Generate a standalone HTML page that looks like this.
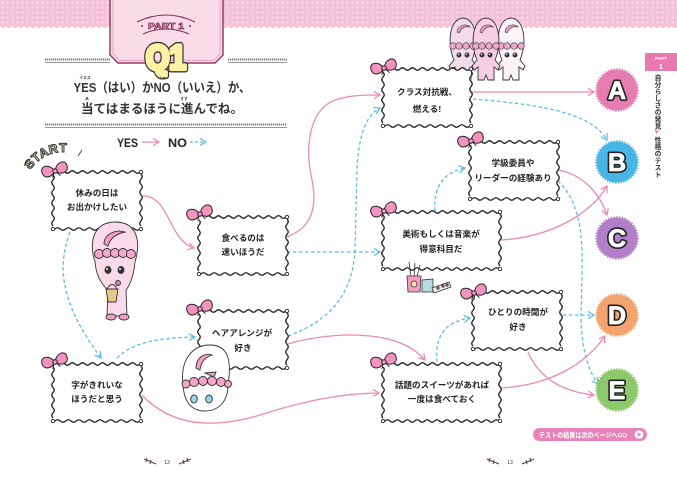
<!DOCTYPE html>
<html><head><meta charset="utf-8">
<style>
html,body{margin:0;padding:0;background:#fff;}
body{width:677px;height:480px;overflow:hidden;position:relative;font-family:"Liberation Sans","Noto Sans CJK JP",sans-serif;}
svg{position:absolute;left:0;top:0;}
.vt{position:absolute;left:652px;top:74px;writing-mode:vertical-rl;text-orientation:upright;font-size:6.8px;font-weight:bold;color:#333;line-height:8px;letter-spacing:0.1px;font-family:"Liberation Sans","Noto Sans CJK JP",sans-serif;}
</style></head>
<body>
<svg width="677" height="480" viewBox="0 0 677 480" xmlns="http://www.w3.org/2000/svg" font-family="'Liberation Sans','Noto Sans CJK JP',sans-serif">
<defs>
<pattern id="dots" width="5" height="5" patternUnits="userSpaceOnUse"><rect width="5" height="5" fill="#f5c3d7"/><circle cx="2.5" cy="2.5" r="0.9" fill="#fbe6ef"/></pattern>
<pattern id="scal" width="6" height="6" patternUnits="userSpaceOnUse" x="0" y="25"><circle cx="3" cy="0" r="3" fill="#f5c3d7"/></pattern>
<marker id="ap" viewBox="0 0 8 8" refX="7" refY="4" markerWidth="8" markerHeight="8" markerUnits="userSpaceOnUse" orient="auto"><path d="M1,0.5 L7,4 L1,7.5" fill="none" stroke="#ec8ab7" stroke-width="1.3"/></marker>
<marker id="ab" viewBox="0 0 8 8" refX="7" refY="4" markerWidth="8" markerHeight="8" markerUnits="userSpaceOnUse" orient="auto"><path d="M1,0.5 L7,4 L1,7.5" fill="none" stroke="#5bbde8" stroke-width="1.3"/></marker>
<g id="b88">
<rect x="0" y="0" width="88" height="57" fill="#fff"/>
<path d="M7,0 q2.5,-2.5 5,0 t5,0 t5,0 t5,0 t5,0 t5,0 t5,0 t5,0 t5,0 t5,0 t5,0 t5,0 t5,0 t5,0 t5,0 t5,0 M2,57 q2.65,-2.5 5.3,0 t5.3,0 t5.3,0 t5.3,0 t5.3,0 t5.3,0 t5.3,0 t5.3,0 t5.3,0 t5.3,0 t5.3,0 t5.3,0 t5.3,0 t5.3,0 t5.3,0 t5.3,0 M0,3 q2.5,2.5 0,5.1 t0,5.1 t0,5.1 t0,5.1 t0,5.1 t0,5.1 t0,5.1 t0,5.1 t0,5.1 t0,5.1 M88,2 q2.5,2.5 0,5.2 t0,5.2 t0,5.2 t0,5.2 t0,5.2 t0,5.2 t0,5.2 t0,5.2 t0,5.2 t0,5.2" fill="none" stroke="#222" stroke-width="1.3"/>
<circle cx="88" cy="0" r="1.7" fill="#fff" stroke="#222" stroke-width="0.9"/>
<circle cx="0" cy="57" r="1.7" fill="#fff" stroke="#222" stroke-width="0.9"/>
<circle cx="88" cy="57" r="1.7" fill="#fff" stroke="#222" stroke-width="0.9"/>
</g>
<g id="b117">
<rect x="0" y="0" width="117" height="57" fill="#fff"/>
<path d="M7,0 q2.5,-2.5 5,0 t5,0 t5,0 t5,0 t5,0 t5,0 t5,0 t5,0 t5,0 t5,0 t5,0 t5,0 t5,0 t5,0 t5,0 t5,0 t5,0 t5,0 t5,0 t5,0 t5,0 t5,0 M2,57 q2.475,-2.5 4.95,0 t4.95,0 t4.95,0 t4.95,0 t4.95,0 t4.95,0 t4.95,0 t4.95,0 t4.95,0 t4.95,0 t4.95,0 t4.95,0 t4.95,0 t4.95,0 t4.95,0 t4.95,0 t4.95,0 t4.95,0 t4.95,0 t4.95,0 t4.95,0 t4.95,0 t4.95,0 M0,3 q2.5,2.5 0,5.1 t0,5.1 t0,5.1 t0,5.1 t0,5.1 t0,5.1 t0,5.1 t0,5.1 t0,5.1 t0,5.1 M117,2 q2.5,2.5 0,5.2 t0,5.2 t0,5.2 t0,5.2 t0,5.2 t0,5.2 t0,5.2 t0,5.2 t0,5.2 t0,5.2" fill="none" stroke="#222" stroke-width="1.3"/>
<circle cx="117" cy="0" r="1.7" fill="#fff" stroke="#222" stroke-width="0.9"/>
<circle cx="0" cy="57" r="1.7" fill="#fff" stroke="#222" stroke-width="0.9"/>
<circle cx="117" cy="57" r="1.7" fill="#fff" stroke="#222" stroke-width="0.9"/>
</g>
<g id="bow">
<path d="M0,0 C-4,-9 -13,-9 -13,-2 C-13,5 -5,6 0,0 Z" fill="#f394c0" stroke="#222" stroke-width="1"/>
<path d="M0,0 C4,-9 13,-9 13,-2 C13,5 5,6 0,0 Z" fill="#f394c0" stroke="#222" stroke-width="1"/>
<path d="M-1,1 L-4,6 M1,1 L4,6" stroke="#222" stroke-width="0.9"/>
<circle r="2.3" fill="#f394c0" stroke="#222" stroke-width="0.9"/>
</g>
<g id="fig">
<path d="M5,44 C-2,28 0,3 14,2 C28,3 30,28 23,44 L28,50 L26,54 L22,51 L22,64 L16,64 L14,59 L12,64 L6,64 L6,51 L2,54 L0,50 Z" fill="currentColor" stroke="#333" stroke-width="0.9"/>
<path d="M8,16 C9,9 17,7 21,11 C16,10 12,12 10,17 Z" fill="#f0a3c6" stroke="#333" stroke-width="0.6"/>
<circle cx="4" cy="30" r="3.3" fill="#f0a8ca" stroke="#333" stroke-width="0.6"/>
<circle cx="10" cy="30" r="3.3" fill="#f0a8ca" stroke="#333" stroke-width="0.6"/>
<circle cx="17" cy="30" r="3.3" fill="#f0a8ca" stroke="#333" stroke-width="0.6"/>
<circle cx="24" cy="30" r="3.3" fill="#f0a8ca" stroke="#333" stroke-width="0.6"/>
<circle cx="10" cy="39" r="2.5" fill="#333"/>
<circle cx="18" cy="39" r="2.5" fill="#333"/>
<circle cx="9.5" cy="38.3" r="0.8" fill="#fff"/>
<circle cx="17.5" cy="38.3" r="0.8" fill="#fff"/>
</g>
</defs>

<!-- header band -->
<rect x="0" y="0" width="677" height="25.5" fill="url(#dots)"/>
<rect x="0" y="25" width="677" height="3.2" fill="url(#scal)"/>

<!-- trio characters -->
<use href="#fig" x="449" y="16" style="color:#f3dce9"/>
<use href="#fig" x="497" y="16" style="color:#fbf3f7"/>
<use href="#fig" x="472" y="16" style="color:#f7cfe1"/>

<!-- part tab -->
<path d="M110,-2 L110,55 L118,63 L215,63 L223,55 L223,-2 Z" fill="#fadbe8" stroke="#9a3a63" stroke-width="1.5"/>
<path d="M113,-2 L113,54 L119.5,60.5 L213.5,60.5 L220,54 L220,-2" fill="none" stroke="#c7658f" stroke-width="0.7" stroke-dasharray="1.5,1"/>
<path d="M137,22 Q166,8 195,22" fill="none" stroke="#7a2f50" stroke-width="1.1"/>
<path d="M143,34 Q166,24 189,34" fill="none" stroke="#7a2f50" stroke-width="1.1"/>
<circle cx="142" cy="26" r="1" fill="#7a2f50"/>
<circle cx="190" cy="26" r="1" fill="#7a2f50"/>
<text x="166" y="29" font-size="8" font-weight="900" text-anchor="middle" fill="#f7d3e2" stroke="#7a2f50" stroke-width="0.7" textLength="36" lengthAdjust="spacingAndGlyphs">PART 1</text>

<!-- dashed rules -->
<g stroke="#777">
<path d="M45,59.5 H110 M228,59.5 H287 M45,124.5 H287" stroke-width="2" stroke-dasharray="1.2,0.8"/>
<path d="M45,62.5 H110 M228,62.5 H287 M45,127.5 H287" stroke-width="0.7"/>
</g>

<!-- Q1 -->
<text x="166" y="69" font-size="34" font-weight="bold" text-anchor="middle" fill="#333" stroke="#333" stroke-width="7" stroke-linejoin="round" textLength="40" lengthAdjust="spacingAndGlyphs">Q1</text>
<text x="166" y="69" font-size="34" font-weight="bold" text-anchor="middle" fill="#fcf2a6" stroke="#fcf2a6" stroke-width="4.3" stroke-linejoin="round" textLength="40" lengthAdjust="spacingAndGlyphs">Q1</text>

<!-- heading -->
<g fill="#333" font-weight="bold">
<text x="162" y="92" font-size="13" text-anchor="middle" textLength="177" lengthAdjust="spacingAndGlyphs">YES（はい）かNO（いいえ）か、</text>
<text x="162" y="113" font-size="12.5" text-anchor="middle" textLength="162" lengthAdjust="spacingAndGlyphs">当てはまるほうに進んでね。</text>
<text x="85" y="79" font-size="3.8" text-anchor="middle">イエス</text>
<text x="162" y="79" font-size="3.8" text-anchor="middle">ノー</text>
<text x="87" y="100" font-size="3.8" text-anchor="middle">あ</text>
<text x="184" y="100" font-size="3.8" text-anchor="middle">すす</text>
</g>

<!-- legend -->
<text x="117" y="147" font-size="12" font-weight="900" fill="#222" textLength="21" lengthAdjust="spacingAndGlyphs">YES</text>
<path d="M142,142 H159" stroke="#ec8ab7" stroke-width="1.3" fill="none" marker-end="url(#ap)"/>
<text x="168" y="147" font-size="12" font-weight="900" fill="#222" textLength="19" lengthAdjust="spacingAndGlyphs">NO</text>
<path d="M190,142 H206" stroke="#5bbde8" stroke-width="1.3" stroke-dasharray="3,2" fill="none" marker-end="url(#ab)"/>

<!-- START -->
<path id="sp" d="M30,170 Q48,146 78,154" fill="none"/>
<text font-size="12.5" font-weight="900" fill="#fdf5c0" stroke="#333" stroke-width="1" letter-spacing="0.5"><textPath href="#sp">START</textPath></text>
<path d="M24,166 L28,160 M27,168 L31,162 M78,156 L82,150" stroke="#333" stroke-width="0.8"/>

<!-- connectors pink -->
<g fill="none" stroke="#ec8ab7" stroke-width="1.3" marker-end="url(#ap)">
<path d="M143,196 C170,196 168,240 194,248"/>
<path d="M142,395 C170,425 210,430 260,415 C300,402 340,393 379,393"/>
<path d="M288,344 C320,334 395,325 425,360"/>
<path d="M287,237 C310,228 318,210 312,180 C305,150 308,110 335,100 C350,95 365,95 380,95"/>
<path d="M471,92 L594,92"/>
<path d="M558,170 C585,175 600,195 607,215"/>
<path d="M501,240 C550,237 590,215 607,186"/>
<path d="M528,352 C540,380 565,392 594,395"/>
<path d="M501,388 C550,385 585,365 605,336"/>
</g>
<!-- connectors blue -->
<g fill="none" stroke="#5bbde8" stroke-width="1.3" stroke-dasharray="3.5,2.5" marker-end="url(#ab)">
<path d="M70,232 C58,265 58,300 101,358"/>
<path d="M117,358 C130,345 150,338 195,337"/>
<path d="M288,336 C325,322 352,300 355,250 L357,170 C358,140 365,115 380,108"/>
<path d="M287,252 L380,252"/>
<path d="M473,99 C530,104 590,110 607,140"/>
<path d="M435,211 C433,185 445,172 465,168"/>
<path d="M558,181 C578,200 583,230 582,270 L581,320 C582,350 588,370 598,384"/>
<path d="M563,315 L594,315"/>
<path d="M437,362 C435,335 445,322 470,318"/>
</g>

<!-- boxes -->
<use href="#b88" x="53" y="172"/>
<use href="#b88" x="199" y="217"/>
<use href="#b88" x="199" y="311"/>
<use href="#b88" x="53" y="364"/>
<use href="#b88" x="383" y="69"/>
<use href="#b88" x="470" y="142"/>
<use href="#b117" x="383" y="212"/>
<use href="#b88" x="473" y="292"/>
<use href="#b117" x="383" y="364"/>

<!-- bows -->
<use href="#bow" transform="translate(55,171) rotate(-15)"/>
<use href="#bow" transform="translate(200,214) rotate(-15)"/>
<use href="#bow" transform="translate(200,309) rotate(-15)"/>
<use href="#bow" transform="translate(55,362) rotate(-15)"/>
<use href="#bow" transform="translate(384,68) rotate(-15)"/>
<use href="#bow" transform="translate(471,141) rotate(-15)"/>
<use href="#bow" transform="translate(384,211) rotate(-15)"/>
<use href="#bow" transform="translate(474,293) rotate(-15)"/>
<use href="#bow" transform="translate(384,362) rotate(-15)"/>

<!-- box texts -->
<g font-size="8.6" font-weight="bold" fill="#222" text-anchor="middle">
<text x="97" y="196">休みの日は</text>
<text x="97" y="210">お出かけしたい</text>
<text x="243" y="241">食べるのは</text>
<text x="243" y="255">速いほうだ</text>
<text x="242" y="336">ヘアアレンジが</text>
<text x="243" y="351">好き</text>
<text x="97" y="388">字がきれいな</text>
<text x="97" y="402">ほうだと思う</text>
<text x="427" y="95">クラス対抗戦、</text>
<text x="427" y="112">燃える!</text>
<text x="513" y="166">学級委員や</text>
<text x="513" y="181">リーダーの経験あり</text>
<text x="441" y="237">美術もしくは音楽が</text>
<text x="441" y="252">得意科目だ</text>
<text x="518" y="315">ひとりの時間が</text>
<text x="518" y="330">好き</text>
<text x="442" y="388">話題のスイーツがあれば</text>
<text x="442" y="402">一度は食べておく</text>
</g>

<!-- character 1 -->
<g stroke="#333" stroke-width="0.9">
<path d="M95,262 C88,240 95,222 115,222 C135,222 142,238 135,262 C134,275 130,285 126,290 L127,316 L107,316 L108,290 C100,283 96,274 95,262 Z" fill="#fbdbe9"/>
<path d="M104,244 C104,234 116,229 125,232 C116,234 110,238 108,246 Z" fill="#f39cc4"/>
<circle cx="99" cy="254" r="4.5" fill="#f5a6c8"/>
<circle cx="107" cy="253" r="4.5" fill="#f5a6c8"/>
<circle cx="115" cy="253" r="4.5" fill="#f5a6c8"/>
<circle cx="123" cy="253" r="4.5" fill="#f5a6c8"/>
<circle cx="131" cy="254" r="4.5" fill="#f5a6c8"/>
<ellipse cx="108" cy="270" rx="3" ry="3.5" fill="#333"/>
<ellipse cx="121" cy="270" rx="3" ry="3.5" fill="#333"/>
<path d="M106,289 L118,289 L116,302 L108,302 Z" fill="#e6c98a"/>
<path d="M107,289 Q112,280 117,289" fill="none"/>
<circle cx="118" cy="283" r="2.5" fill="#c98aa8"/>
<ellipse cx="111" cy="317" rx="5" ry="3" fill="#f39cc4"/>
<ellipse cx="124" cy="317" rx="5" ry="3" fill="#f39cc4"/>
</g>
<circle cx="107" cy="269" r="1" fill="#fff"/>
<circle cx="120" cy="269" r="1" fill="#fff"/>

<!-- character 2 -->
<g stroke="#333" stroke-width="0.9">
<path d="M183,385 C180,360 192,345 210,345 C228,345 232,360 228,385 C228,402 218,411 205,411 C190,411 184,400 183,385 Z" fill="#fff"/>
<path d="M196,368 C196,357 206,352 212,355 C206,357 201,361 200,370 Z" fill="#f39cc4"/>
<path d="M205,373 L216,372 L214,377 Z" fill="#f39cc4"/>
<circle cx="186" cy="384" r="4" fill="#f5a6c8"/>
<circle cx="194" cy="382" r="4.5" fill="#f5a6c8"/>
<circle cx="203" cy="381" r="4.5" fill="#f5a6c8"/>
<circle cx="212" cy="381" r="4.5" fill="#f5a6c8"/>
<circle cx="221" cy="382" r="4.5" fill="#f5a6c8"/>
<circle cx="228" cy="384" r="3.5" fill="#f5a6c8"/>
<ellipse cx="194" cy="399" rx="3.3" ry="4" fill="#9ad4ea"/>
<ellipse cx="209" cy="399" rx="3.3" ry="4" fill="#9ad4ea"/>
</g>

<!-- art supplies -->
<g stroke="#333" stroke-width="0.8">
<path d="M411,277 L409,262 M414,277 L415,263 M417,277 L420,265" fill="none"/>
<path d="M407,276 L421,276 L420,292 L408,292 Z" fill="#f39cc4"/>
<circle cx="414" cy="284" r="3" fill="#f7e9a0"/>
<path d="M422,280 L433,279 L433,292 L422,292 Z" fill="#b8dce0"/>
<path d="M432,288 L449,282 L451,287 L434,293 Z" fill="#eee"/>
<circle cx="438" cy="288" r="1.2" fill="#4aa8d8"/>
<circle cx="443" cy="286" r="1.2" fill="#e66"/>
<circle cx="447" cy="285" r="1.2" fill="#6b6"/>
</g>

<!-- result circles -->
<g>
<circle cx="617" cy="90" r="20.5" fill="#e67db0"/>
<circle cx="617" cy="162" r="20.5" fill="#48b5e6"/>
<circle cx="617" cy="238" r="20.5" fill="#b27fc8"/>
<circle cx="617" cy="315" r="20.5" fill="#f2a36e"/>
<circle cx="617" cy="390" r="20.5" fill="#8dc86a"/>
<circle cx="617" cy="90" r="21" fill="none" stroke="#e67db0" stroke-width="1.6" stroke-dasharray="1.4,1.4"/>
<circle cx="617" cy="162" r="21" fill="none" stroke="#48b5e6" stroke-width="1.6" stroke-dasharray="1.4,1.4"/>
<circle cx="617" cy="238" r="21" fill="none" stroke="#b27fc8" stroke-width="1.6" stroke-dasharray="1.4,1.4"/>
<circle cx="617" cy="315" r="21" fill="none" stroke="#f2a36e" stroke-width="1.6" stroke-dasharray="1.4,1.4"/>
<circle cx="617" cy="390" r="21" fill="none" stroke="#8dc86a" stroke-width="1.6" stroke-dasharray="1.4,1.4"/>
</g>
<g font-size="25" font-weight="bold" text-anchor="middle">
<g fill="#222" stroke="#222" stroke-width="4" stroke-linejoin="round">
<text x="617" y="99">A</text><text x="617" y="171">B</text><text x="617" y="247">C</text><text x="617" y="324">D</text><text x="617" y="399">E</text>
</g>
<g fill="#fff" stroke="#fff" stroke-width="0.8" stroke-linejoin="round">
<text x="617" y="99">A</text><text x="617" y="171">B</text><text x="617" y="247">C</text><text x="617" y="324">D</text><text x="617" y="399">E</text>
</g>
</g>

<!-- side tab -->
<rect x="645" y="53" width="32" height="18" fill="#e87aaf"/>
<text x="661" y="60" font-size="4.5" font-weight="bold" fill="#fff" text-anchor="middle">PART</text>
<text x="661" y="69" font-size="7" font-weight="bold" fill="#fff" text-anchor="middle">1</text>

<!-- bottom pill -->
<rect x="533" y="428" width="114" height="13" rx="6.5" fill="#e983b7"/>
<text x="583" y="437.5" font-size="6.6" font-weight="bold" fill="#fff" text-anchor="middle" textLength="88" lengthAdjust="spacingAndGlyphs">テストの結果は次のページへGO</text>
<circle cx="639" cy="434.5" r="4.3" fill="#fff"/>
<path d="M637.6,432.3 L641.3,434.5 L637.6,436.7 Z" fill="#e983b7"/>

<!-- page numbers -->
<g font-size="5" fill="#333" text-anchor="middle">
<text x="167" y="464">13</text>
<text x="510" y="464">13</text>
</g>
<g stroke="#5a3a50" stroke-width="1.1" fill="none">
<path d="M144,459 L156,464 M147,458 L146,462 M151,460 L150,464"/>
<path d="M179,464 L191,459 M183,460 L184,464 M187,458 L188,462"/>
<path d="M487,459 L499,464 M490,458 L489,462 M494,460 L493,464"/>
<path d="M522,464 L534,459 M526,460 L527,464 M530,458 L531,462"/>
</g>
</svg>
<div class="vt">自分らしさの発見<span style="color:#e87aaf">♥</span>性格のテスト</div>
</body></html>
